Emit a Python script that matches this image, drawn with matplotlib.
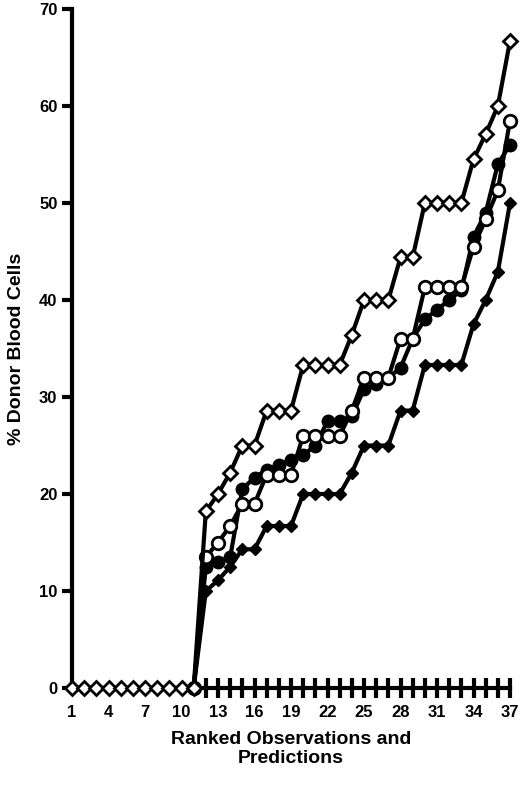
import matplotlib.pyplot as plt
import numpy as np

plt.rcParams['font.family'] = ['Liberation Sans', 'DejaVu Sans']
plt.rcParams['font.weight'] = 'bold'

ranks = np.arange(1, 38)
zeros = [0] * 11

open_diamond = zeros + [18.2, 20, 22.2, 25, 25, 28.6, 28.6, 28.6, 33.3, 33.3, 33.3, 33.3, 36.4,
                        40, 40, 40, 44.4, 44.4, 50, 50, 50, 50, 54.5, 57.1, 60, 66.7]
open_circle = zeros + [13.5, 15, 16.7, 19, 19, 22, 22, 22, 26, 26, 26, 26, 28.6,
                       32, 32, 32, 36, 36, 41.3, 41.3, 41.3, 41.3, 45.5, 48.3, 51.3, 58.5]
filled_circle = zeros + [12.5, 13, 13.5, 20.5, 21.7, 22.5, 23, 23.5, 24, 25, 27.5, 27.5, 28,
                         30.8, 31.3, 32, 33, 36, 38, 39, 40, 41, 46.5, 49, 54, 56]
filled_diamond = zeros + [10, 11.1, 12.5, 14.3, 14.3, 16.7, 16.7, 16.7, 20, 20, 20, 20, 22.2,
                          25, 25, 25, 28.6, 28.6, 33.3, 33.3, 33.3, 33.3, 37.5, 40, 42.9, 50]

fig = plt.figure(figsize=(5.2, 7.93), dpi=100)
ax = fig.add_axes([72 / 520, 105 / 793, 438 / 520, 679 / 793])

# series start at rank 11 so the zero part is only drawn once (open diamonds)
ax.plot(ranks[10:], filled_diamond[10:], '-D', color='black', mfc='black', ms=6, lw=3, clip_on=False, zorder=3)
ax.plot(ranks[10:], filled_circle[10:], '-o', color='black', mfc='black', ms=9, lw=3, clip_on=False, zorder=4)
ax.plot(ranks[10:], open_circle[10:], '-o', color='black', mfc='white', mew=2, ms=9, lw=3, clip_on=False, zorder=5)
ax.plot(ranks, open_diamond, '-D', color='black', mfc='white', mew=2, ms=7, lw=3, clip_on=False, zorder=6)

ax.set_xlim(1, 37)
ax.set_ylim(0, 70)
ax.spines['top'].set_visible(False)
ax.spines['right'].set_visible(False)
ax.spines['left'].set_linewidth(3)
ax.spines['bottom'].set_linewidth(3)

ax.set_xticks(np.arange(1, 38, 3))
ax.set_xticks(np.arange(12, 38), minor=True)
ax.xaxis.remove_overlapping_locs = False
ax.tick_params(axis='x', which='major', length=0, pad=12, labelsize=12)
ax.tick_params(axis='x', which='minor', length=14, width=3, direction='inout')
ax.set_yticks(np.arange(0, 71, 10))
ax.tick_params(axis='y', length=7, width=3, labelsize=12)

ax.set_ylabel('% Donor Blood Cells', fontsize=14, fontweight='bold', labelpad=10)
ax.set_xlabel('Ranked Observations and\nPredictions', fontsize=14, fontweight='bold', labelpad=8)

fig.savefig('out.png', dpi=100)
